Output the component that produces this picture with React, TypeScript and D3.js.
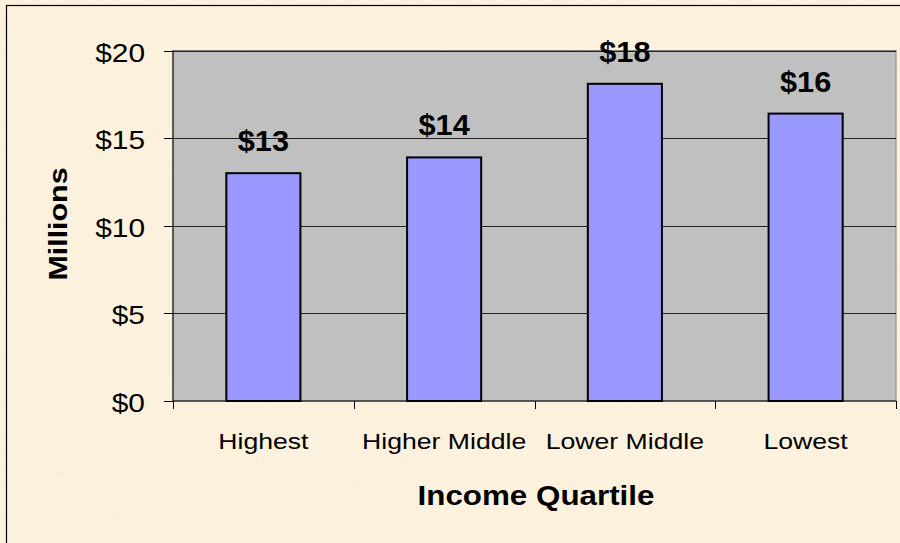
import React, { useEffect, useRef } from 'react'
import * as d3 from 'd3'

const categories = ['Highest', 'Higher Middle', 'Lower Middle', 'Lowest']
const values = [13.0, 13.9, 18.1, 16.4]
const valueLabels = ['$13', '$14', '$18', '$16']
const yTicks = [0, 5, 10, 15, 20]

const width = 900
const height = 543
const FONT = 'Arial, "Liberation Sans", sans-serif'

const App = () => {
    const svgRef = useRef<SVGSVGElement>(null)

    useEffect(() => {
        const svg = d3.select(svgRef.current)
        svg.selectAll('*').remove()

        const left = 173
        const right = 896
        const top = 50.5
        const bottom = 401

        // parchment background with a soft mottled texture
        const defs = svg.append('defs')
        const filter = defs.append('filter').attr('id', 'parchment')
            .attr('x', 0).attr('y', 0).attr('width', '100%').attr('height', '100%')
        filter.append('feTurbulence')
            .attr('type', 'fractalNoise')
            .attr('baseFrequency', 0.02)
            .attr('numOctaves', 3)
            .attr('seed', 4)
        filter.append('feColorMatrix')
            .attr('type', 'matrix')
            .attr('values', '0 0 0 0 0.96  0 0 0 0 0.88  0 0 0 0 0.70  0 0 0 0.35 -0.05')

        svg.append('rect')
            .attr('x', 0).attr('y', 0)
            .attr('width', width).attr('height', height)
            .attr('fill', '#FCF1DD')
        svg.append('rect')
            .attr('x', 0).attr('y', 0)
            .attr('width', width).attr('height', height)
            .attr('filter', 'url(#parchment)')
            .attr('opacity', 0.5)
        svg.append('rect')
            .attr('x', 6.5).attr('y', 5.5)
            .attr('width', 905).attr('height', 545)
            .attr('fill', 'none')
            .attr('stroke', '#000')
            .attr('stroke-width', 1.2)

        const x = d3.scaleBand().domain(categories).range([left, right]).paddingInner(0).paddingOuter(0)
        const y = d3.scaleLinear().domain([0, 20]).range([bottom, top])

        // plot area
        svg.append('rect')
            .attr('x', left).attr('y', top)
            .attr('width', right - left).attr('height', bottom - top)
            .attr('fill', '#C0C0C0')
            .attr('stroke', '#808080')
            .attr('stroke-width', 1)

        // gridlines
        svg.append('g')
            .selectAll('line')
            .data(yTicks.filter(t => t > 0))
            .join('line')
            .attr('x1', left).attr('x2', right)
            .attr('y1', d => Math.round(y(d)) + 0.5).attr('y2', d => Math.round(y(d)) + 0.5)
            .attr('stroke', '#222')
            .attr('stroke-width', 1)

        // bars
        const bw = x.bandwidth() * 0.41
        svg.append('g')
            .selectAll('rect')
            .data(values)
            .join('rect')
            .attr('x', (d, i) => x(categories[i])! + x.bandwidth() / 2 - bw / 2)
            .attr('y', d => y(d))
            .attr('width', bw)
            .attr('height', d => bottom - y(d))
            .attr('fill', '#9999FF')
            .attr('stroke', '#000')
            .attr('stroke-width', 2)

        // value labels
        svg.append('g')
            .selectAll('text')
            .data(values)
            .join('text')
            .attr('transform', (d, i) => `translate(${x(categories[i])! + x.bandwidth() / 2},${y(d) - 22}) scale(1.06,1)`)
            .attr('text-anchor', 'middle')
            .attr('font-family', FONT)
            .attr('font-weight', 'bold')
            .attr('font-size', 29)
            .attr('fill', '#000')
            .text((d, i) => valueLabels[i])

        // y axis
        svg.append('line')
            .attr('x1', left).attr('x2', left)
            .attr('y1', top).attr('y2', bottom)
            .attr('stroke', '#000')
        const yAxis = svg.append('g')
        yAxis.selectAll('line')
            .data(yTicks)
            .join('line')
            .attr('x1', left - 9).attr('x2', left)
            .attr('y1', d => Math.round(y(d)) + 0.5).attr('y2', d => Math.round(y(d)) + 0.5)
            .attr('stroke', '#000')
        yAxis.selectAll('text')
            .data(yTicks)
            .join('text')
            .attr('transform', d => `translate(145,${y(d) + 11}) scale(1.15,1)`)
            .attr('text-anchor', 'end')
            .attr('font-family', FONT)
            .attr('font-size', 26)
            .attr('fill', '#000')
            .text(d => `$${d}`)

        // x axis
        svg.append('line')
            .attr('x1', left).attr('x2', right)
            .attr('y1', bottom).attr('y2', bottom)
            .attr('stroke', '#000')
        const xAxis = svg.append('g')
        xAxis.selectAll('line')
            .data([...categories.map(c => x(c)!), right])
            .join('line')
            .attr('x1', d => Math.round(d) + 0.5).attr('x2', d => Math.round(d) + 0.5)
            .attr('y1', bottom).attr('y2', bottom + 8)
            .attr('stroke', '#000')
        xAxis.selectAll('text')
            .data(categories)
            .join('text')
            .attr('transform', d => `translate(${x(d)! + x.bandwidth() / 2},449) scale(1.21,1)`)
            .attr('text-anchor', 'middle')
            .attr('font-family', FONT)
            .attr('font-size', 22)
            .attr('fill', '#000')
            .text(d => d)

        // axis titles
        svg.append('text')
            .attr('transform', 'translate(536,505) scale(1.12,1)')
            .attr('text-anchor', 'middle')
            .attr('font-family', FONT)
            .attr('font-weight', 'bold')
            .attr('font-size', 28)
            .text('Income Quartile')
        svg.append('text')
            .attr('transform', `translate(67, 224) rotate(-90) scale(1.17,1)`)
            .attr('text-anchor', 'middle')
            .attr('font-family', FONT)
            .attr('font-weight', 'bold')
            .attr('font-size', 26)
            .text('Millions')
    }, [])

    return (
        <svg
            ref={svgRef}
            width={width}
            height={height}
            style={{ position: 'absolute', left: 0, top: 0, display: 'block' }}
        ></svg>
    )
}

export default App
